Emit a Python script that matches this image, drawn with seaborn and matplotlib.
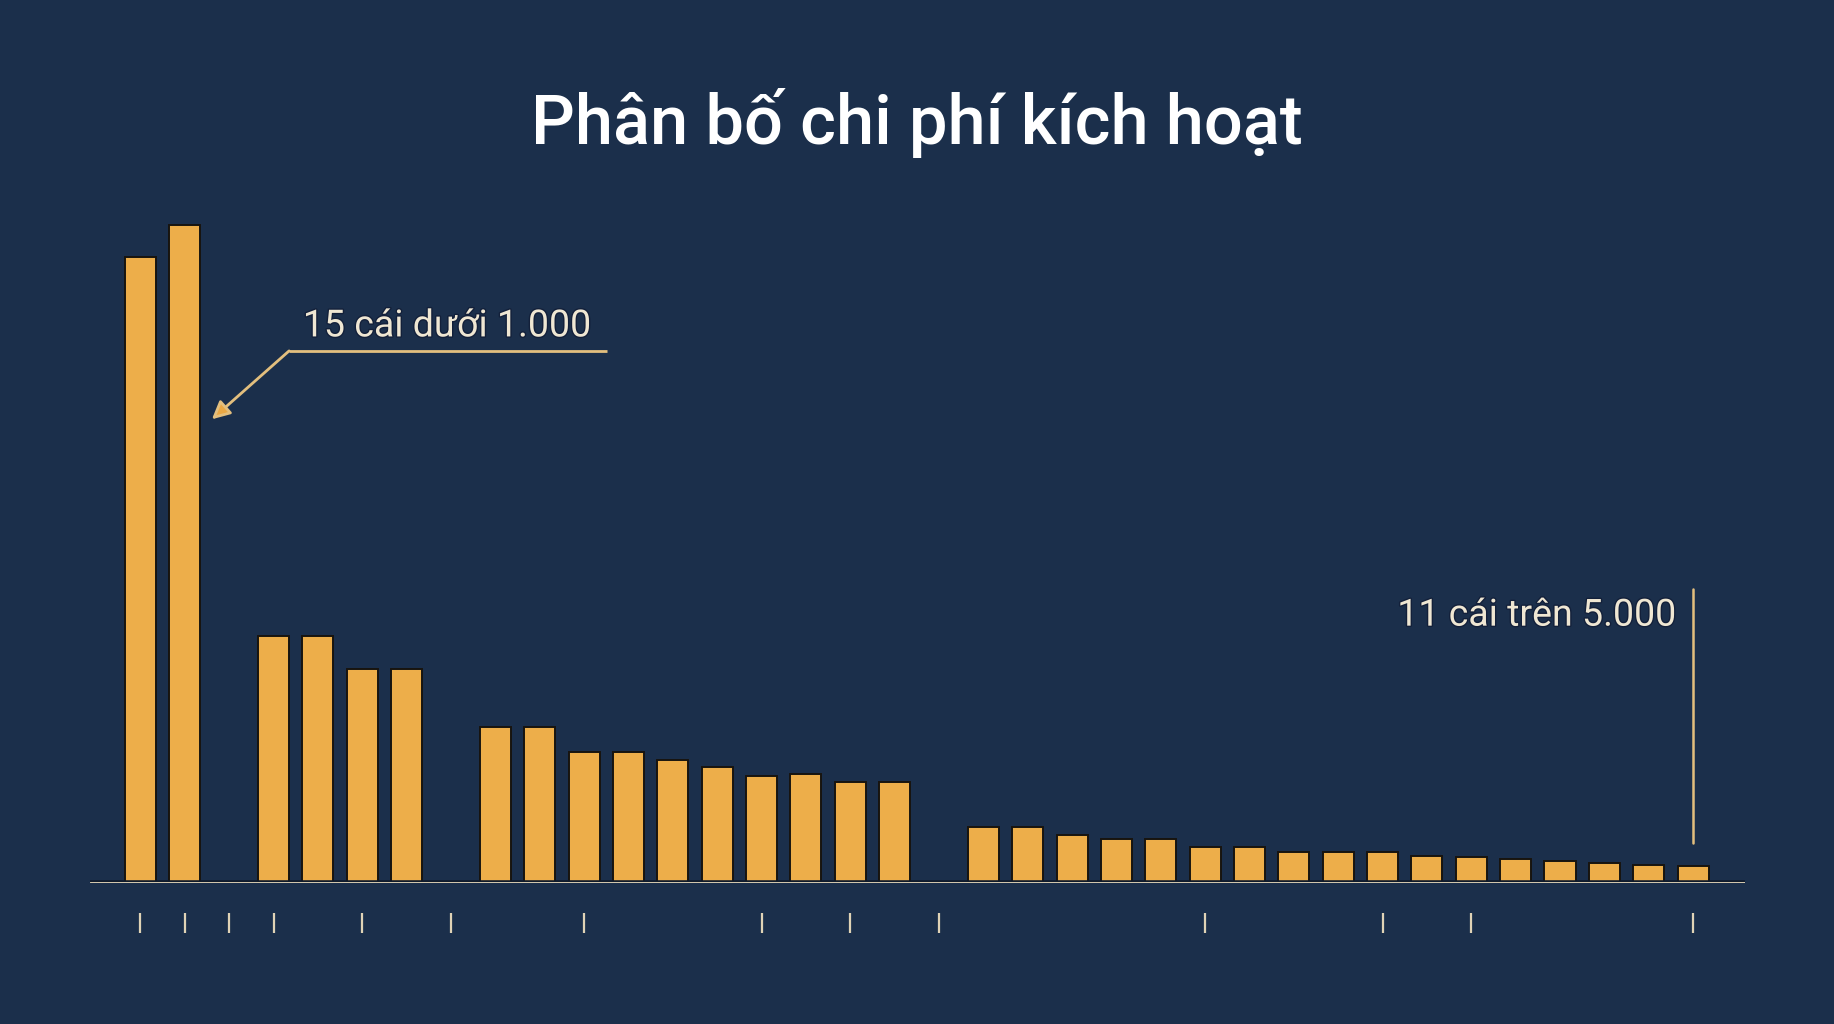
import matplotlib
matplotlib.use("Agg")
import matplotlib.pyplot as plt
import matplotlib.patheffects as pe
import seaborn as sns
import pandas as pd

# ---- data -------------------------------------------------------------
# bin slot index (gaps at 2, 7 and 18 are empty bins)
slots = [0, 1, 3, 4, 5, 6, 8, 9, 10, 11, 12, 13, 14, 15, 16, 17,
         19, 20, 21, 22, 23, 24, 25, 26, 27, 28, 29, 30, 31, 32, 33, 34, 35]
values = [95.2, 100.0, 37.6, 37.6, 32.5, 32.5, 23.7, 23.7, 19.9, 19.9,
          18.7, 17.6, 16.3, 16.5, 15.3, 15.3,
          8.4, 8.4, 7.3, 6.6, 6.6, 5.5, 5.4, 4.7, 4.7, 4.7, 4.0, 3.85,
          3.6, 3.3, 3.0, 2.7, 2.5]
tick_slots = [0, 1, 2, 3, 5, 7, 10, 14, 16, 18, 24, 28, 30, 35]
title = "Phân bố chi phí kích hoạt"
note_low = "15 cái dưới 1.000"
note_high = "11 cái trên 5.000"

BG = "#1b2f4b"
BAR = "#edae4a"
CREAM = "#efe7d3"
LINE = "#e3bf7e"

sns.set_theme(style="white")
plt.rcParams["font.family"] = ["Roboto", "DejaVu Sans"]

W, H = 1834, 1024
DPI = 100
PT = 72 / DPI  # points per pixel
fig = plt.figure(figsize=(W / DPI, H / DPI), dpi=DPI, facecolor=BG)

# axes placement in pixels
ax_left, ax_right = 90, 1745
ax_base, ax_top = 882.7, 159.6
ax = fig.add_axes([ax_left / W, 1 - ax_base / H,
                   (ax_right - ax_left) / W, (ax_base - ax_top) / H])
ax.set_facecolor(BG)

df = pd.DataFrame({"slot": slots, "value": values})
sns.barplot(data=df, x="slot", y="value", native_scale=True, width=0.70,
            color=BAR, saturation=1, edgecolor="#17140f", linewidth=1.4,
            ax=ax, zorder=3)

ax.set_xlim(-1.138, 36.17)
ax.set_ylim(0, 110)

# baseline
ax.axhline(0, color="#e9dcbc", lw=2.0, zorder=4,
           path_effects=[pe.Stroke(linewidth=4, foreground="#0f1a2b"), pe.Normal()])

# tick marks offset below baseline
for s in ["top", "right", "left"]:
    ax.spines[s].set_visible(False)
ax.spines["bottom"].set_position(("outward", 30 * PT))
ax.spines["bottom"].set_visible(False)
ax.set_xticks(tick_slots)
ax.set_xticklabels([""] * len(tick_slots))
ax.tick_params(axis="x", direction="out", length=20 * PT, width=1.6,
               color="#e0d3b6", bottom=True)
ax.set_yticks([])
ax.set_xlabel("")
ax.set_ylabel("")

# title
fig.text(0.5, 1 - 144 / H, title, ha="center", va="baseline",
         fontsize=49.4, fontweight="medium", color="white")

txt_fx = [pe.withStroke(linewidth=2, foreground="#13203a")]

# left annotation
ax.text(3.66, 83.1, note_low, ha="left", va="baseline", fontsize=27,
        color=CREAM, path_effects=txt_fx, zorder=6)
ax.plot([3.35, 10.51], [80.9, 80.9], color=LINE, lw=2, zorder=5,
        solid_capstyle="butt")
ax.annotate("", xy=(1.61, 70.5), xytext=(3.35, 80.9),
            arrowprops=dict(arrowstyle="-|>,head_length=0.9,head_width=0.45",
                            color=LINE, lw=2, shrinkA=0, shrinkB=0,
                            fc="#eaa844"), zorder=5)

# right annotation
ax.plot([35, 35], [6.04, 44.7], color=LINE, lw=1.8, zorder=5)
ax.text(34.62, 39.1, note_high, ha="right", va="baseline", fontsize=27,
        color=CREAM, path_effects=txt_fx, zorder=6)

fig.savefig("out.png", dpi=DPI, facecolor=BG)
